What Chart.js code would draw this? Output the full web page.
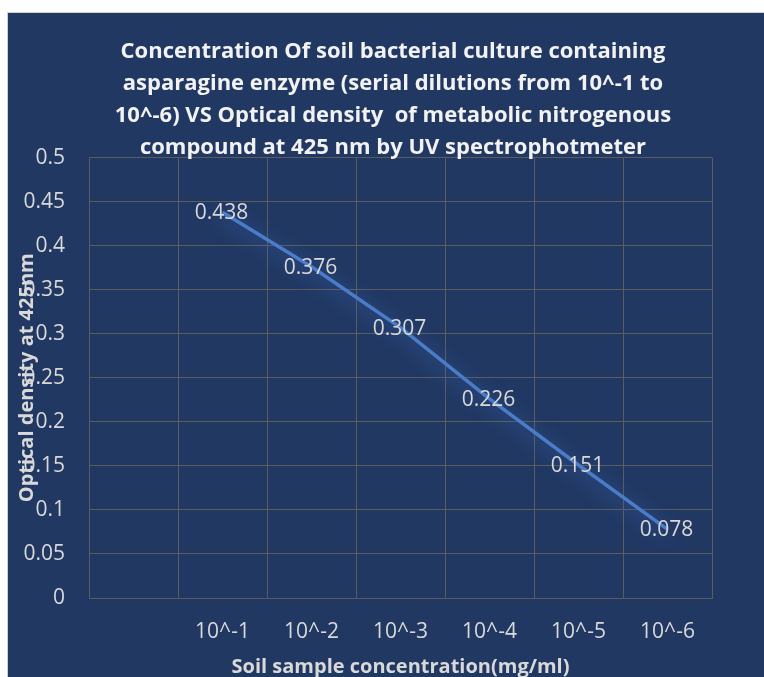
<!DOCTYPE html>
<html>
<head>
<meta charset="utf-8">
<script src="https://cdn.jsdelivr.net/npm/chart.js@4.4.0/dist/chart.umd.min.js"></script>
<style>
    html, body { margin: 0; padding: 0; background: #ffffff; overflow: hidden; }
    #box {
        position: absolute;
        left: 7px;
        top: 12px;
        width: 772px;
        height: 670px;
        background: #213863;
        border-left: 1px solid #d0d0d0;
        border-top: 1px solid #d0d0d0;
    }
    #myChart { display: block; }
</style>
</head>
<body>
<div id="box"><canvas id="myChart" width="770" height="665"></canvas></div>
<script>
// chart values
const categories = ['', '10^-1', '10^-2', '10^-3', '10^-4', '10^-5', '10^-6'];
const opticalDensity = [null, 0.438, 0.376, 0.307, 0.226, 0.151, 0.078];
const yMin = 0;
const yMax = 0.5;
const yStep = 0.05;

const titleLines = [
    'Concentration Of soil bacterial culture containing',
    'asparagine enzyme (serial dilutions from 10^-1 to',
    '10^-6) VS Optical density  of metabolic nitrogenous',
    'compound at 425 nm by UV spectrophotmeter'
];
const xTitle = 'Soil sample concentration(mg/ml)';
const yTitle = 'Optical density at 425nm';

const FONT = "'Open Sans', 'Noto Sans', sans-serif";
const textGray = '#D9D9D9';
const gridGray = '#5c5c5c';

// soft glow under the line
const glowPlugin = {
    id: 'glow',
    beforeDatasetDraw(chart) {
        const ctx = chart.ctx;
        ctx.save();
        ctx.shadowColor = 'rgba(70, 130, 220, 0.7)';
        ctx.shadowBlur = 18;
        ctx.shadowOffsetX = -2;
        ctx.shadowOffsetY = 3;
    },
    afterDatasetDraw(chart) {
        chart.ctx.restore();
    }
};

// value labels centred on each point
const valueLabels = {
    id: 'valueLabels',
    afterDatasetsDraw(chart) {
        const ctx = chart.ctx;
        const meta = chart.getDatasetMeta(0);
        ctx.save();
        ctx.font = '21px ' + FONT;
        ctx.fillStyle = textGray;
        ctx.textAlign = 'center';
        ctx.textBaseline = 'middle';
        meta.data.forEach(function (pt, i) {
            const v = opticalDensity[i];
            if (v === null) return;
            ctx.fillText(String(v), pt.x - 1, pt.y + 1);
        });
        ctx.restore();
    }
};

// y axis title sits over the tick labels, like in the original
const yTitlePlugin = {
    id: 'yTitle',
    afterDraw(chart) {
        const ctx = chart.ctx;
        const area = chart.chartArea;
        ctx.save();
        ctx.translate(19, (area.top + area.bottom) / 2);
        ctx.rotate(-Math.PI / 2);
        ctx.font = 'bold 20px ' + FONT;
        ctx.fillStyle = textGray;
        ctx.textAlign = 'center';
        ctx.textBaseline = 'middle';
        ctx.fillText(yTitle, 0, 0);
        ctx.restore();
    }
};

const ctx = document.getElementById('myChart').getContext('2d');
window.myChart = new Chart(ctx, {
    type: 'line',
    data: {
        labels: categories,
        datasets: [{
            data: opticalDensity,
            borderColor: '#4A7CC8',
            borderWidth: 3.5,
            pointRadius: 0,
            fill: false,
            tension: 0
        }]
    },
    options: {
        responsive: false,
        animation: false,
        layout: { padding: 0 },
        plugins: {
            legend: { display: false },
            tooltip: { enabled: false },
            title: {
                display: true,
                text: titleLines,
                color: '#F2F2F2',
                font: { family: FONT, size: 22, weight: 'bold', lineHeight: 1.45 },
                padding: { top: 23, bottom: -6 }
            }
        },
        scales: {
            x: {
                offset: true,
                grid: { color: gridGray, lineWidth: 1, offset: true, drawTicks: false },
                border: { color: gridGray },
                ticks: {
                    color: textGray,
                    font: { family: FONT, size: 21 },
                    padding: 21,
                    maxRotation: 0,
                    autoSkip: false
                },
                title: {
                    display: true,
                    text: xTitle,
                    color: textGray,
                    font: { family: FONT, size: 20, weight: 'bold' },
                    padding: { top: 0, bottom: -1 }
                },
                afterFit(scale) { scale.height = 80; }
            },
            y: {
                min: yMin,
                max: yMax,
                grid: { color: gridGray, lineWidth: 1, drawTicks: false },
                border: { color: gridGray },
                ticks: {
                    stepSize: yStep,
                    color: textGray,
                    font: { family: FONT, size: 21 },
                    padding: 24,
                    callback: function (value) {
                        return String(Number(value.toFixed(2)));
                    }
                },
                afterFit(scale) { scale.width = 81; }
            },
            // empty right-hand space inside the chart box
            yRight: {
                position: 'right',
                display: true,
                grid: { display: false },
                border: { display: false },
                ticks: { display: false },
                afterFit(scale) { scale.width = 66; }
            }
        }
    },
    plugins: [glowPlugin, valueLabels, yTitlePlugin]
});
</script>
</body>
</html>
